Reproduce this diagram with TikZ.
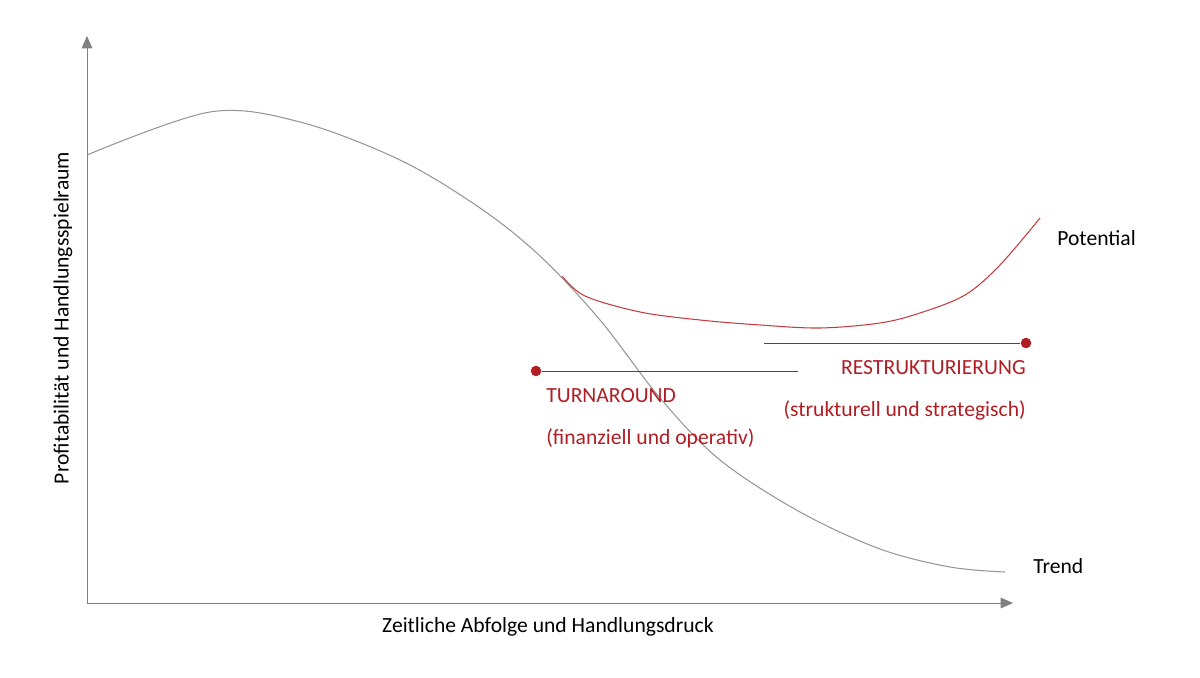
\documentclass[tikz,border=0pt]{standalone}
\usepackage{fontspec}
\setmainfont{Carlito}
\usepackage{tikz}
\usetikzlibrary{positioning}
\usetikzlibrary{arrows.meta}
\usetikzlibrary{calc}
\definecolor{axisgray}{RGB}{128,128,128}
\definecolor{curvegray}{RGB}{150,150,150}
\definecolor{darkred}{RGB}{176,30,36}
\definecolor{curvered}{RGB}{196,60,64}
\begin{document}
\begin{tikzpicture}[x=0.02cm,y=-0.02cm,font=\fontsize{12.3}{14}\selectfont]
\tikzstyle{axis}=[draw=axisgray,line width=0.5pt,-{Triangle[length=7pt,width=6pt]}]
\tikzstyle{phase}=[draw=darkred,line width=0.5pt]
\tikzstyle{dot}=[circle,fill=darkred,inner sep=0pt,minimum size=6pt]
\tikzstyle{redlabel}=[text=darkred,inner sep=0pt]
\useasboundingbox (0,0) rectangle (1200,678);
\coordinate (origin) at (87,603);
\coordinate (ytop) at (87,36);
\coordinate (xend) at (1013,603);
\draw[axis] (origin) -- (ytop);
\draw[axis] (origin) -- (xend);
\node (xlabel) at (548,627) {Zeitliche Abfolge und Handlungsdruck};
\node[rotate=90] (ylabel) at (63,318) {Profitabilität und Handlungsspielraum};

% trend curve
\draw[curvegray,line width=0.6pt] plot[smooth,tension=0.55] coordinates {
(87,155) (210,112) (300,122) (400,160) (480,208) (540,256) (600,320)
(660,398) (720,460) (800,512) (880,549) (950,567) (1005,572)};
% potential curve
\draw[curvered,line width=0.6pt] plot[smooth,tension=0.55] coordinates {
(562,276) (585,296) (640,312) (700,320) (760,325) (820,328) (880,323) (920,313)
(965,295) (1000,265) (1040,218)};

\node[anchor=west,inner sep=0pt] (potential) at (1057,238) {Potential};
\node[anchor=west,inner sep=0pt] (trend) at (1033,566) {Trend};

% phases
\node[dot] (turnA) at (536,371) {};
\coordinate (turnB) at (798,371);
\draw[phase] (turnA) -- (turnB);
\node[redlabel,anchor=west] (turnaround) at (546,396) {TURNAROUND};
\node[redlabel,anchor=west] (turnsub) at (546,438) {(finanziell und operativ)};

\coordinate (restA) at (764,343);
\node[dot] (restB) at (1026,343) {};
\draw[phase] (restA) -- (restB);
\node[redlabel,anchor=east] (restr) at (1026,368) {RESTRUKTURIERUNG};
\node[redlabel,anchor=east] (restsub) at (1026,410) {(strukturell und strategisch)};
\end{tikzpicture}
\end{document}
